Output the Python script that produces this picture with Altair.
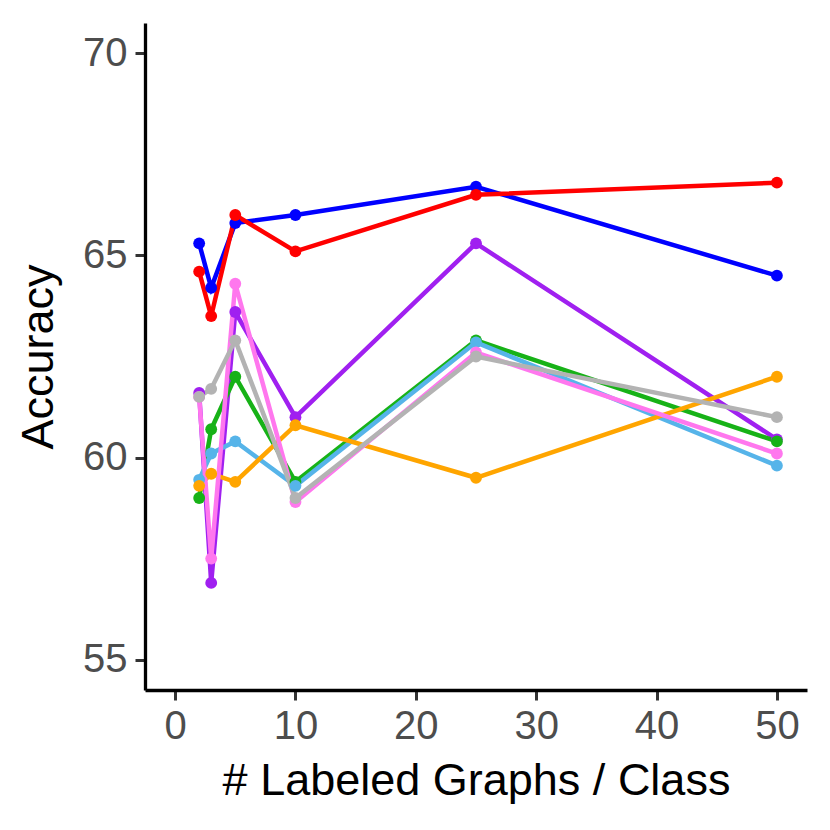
import altair as alt
import pandas as pd

x_vals = [2, 3, 5, 10, 25, 50]
series_names = ["Blue", "Red", "Purple", "Green", "LightBlue", "Orange", "Pink", "Gray"]
series_colors = ["#0000FF", "#FF0000", "#A020F0", "#17B217", "#56B4E9", "#FFA500", "#FF77EE", "#B3B3B3"]

blue = [65.3, 64.2, 65.8, 66.0, 66.7, 64.5]
red = [64.6, 63.5, 66.0, 65.1, 66.5, 66.8]
purple = [61.6, 56.9, 63.6, 61.0, 65.3, 60.45]
green = [59.0, 60.7, 62.0, 59.4, 62.9, 60.4]
lightblue = [59.45, 60.1, 60.4, 59.3, 62.85, 59.8]
orange = [59.3, 59.6, 59.4, 60.8, 59.5, 62.0]
pink = [61.5, 57.5, 64.3, 58.9, 62.6, 60.1]
gray = [61.5, 61.7, 62.9, 59.0, 62.5, 61.0]

all_series = [blue, red, purple, green, lightblue, orange, pink, gray]

rows = []
for i, (name, vals) in enumerate(zip(series_names, all_series)):
    for xv, yv in zip(x_vals, vals):
        rows.append({"n": xv, "acc": yv, "method": name, "idx": i})
df = pd.DataFrame(rows)

FONT = "Liberation Sans"

xenc = alt.X("n:Q", title="# Labeled Graphs / Class",
             scale=alt.Scale(domain=[-2.5, 52.5], nice=False, zero=False),
             axis=alt.Axis(values=[0, 10, 20, 30, 40, 50], titlePadding=12, labelPadding=6))
yenc = alt.Y("acc:Q", title="Accuracy",
             scale=alt.Scale(domain=[54.25, 70.75], nice=False, zero=False),
             axis=alt.Axis(values=[55, 60, 65, 70], titlePadding=21, labelPadding=8))
cenc = alt.Color("method:N", scale=alt.Scale(domain=series_names, range=series_colors), legend=None)

base = alt.Chart(df)
lines = base.mark_line(strokeWidth=4.5).encode(x=xenc, y=yenc, color=cenc, order="n:Q")
points = base.mark_circle(size=140, opacity=1).encode(x=xenc, y=yenc, color=cenc)

chart = alt.layer(lines, points).properties(
    width=662, height=667,
    autosize=alt.AutoSizeParams(type="none"),
    padding={"left": 137, "top": 15, "right": 15, "bottom": 130},
).configure_view(stroke=None).configure_axis(
    grid=False,
    domainColor="black", domainWidth=3.3,
    tickColor="#333333", tickWidth=3, tickSize=10,
    labelColor="#4D4D4D", labelFontSize=40, labelFont=FONT,
    titleColor="black", titleFontSize=45, titleFont=FONT, titleFontWeight="normal",
)

chart.save("out.html", embed_options={"renderer": "svg", "actions": False})
